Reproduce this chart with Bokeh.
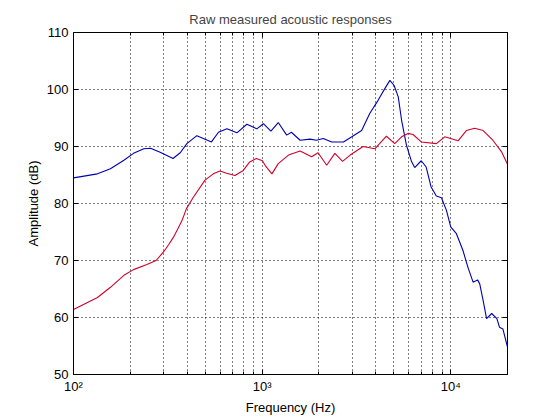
from bokeh.plotting import figure
from bokeh.models import FixedTicker, LogAxis, LinearAxis, Range1d
from bokeh.embed import file_html
from bokeh.resources import INLINE

# Data
freq_blue = [100, 134, 157, 185, 208, 236, 256, 288, 337, 368, 399, 451, 539, 587, 651,
             735, 830, 937, 1016, 1113, 1218, 1350, 1430, 1590, 1795, 1940, 2110, 2340,
             2700, 2990, 3370, 3720, 4120, 4480, 4760, 5010, 5270, 5490, 5820, 6190,
             6440, 6980, 7410, 7870, 8390, 8930, 9490, 10000, 10720, 11600, 12340,
             13140, 13880, 14250, 14850, 15490, 16490, 17570, 18130, 18900, 20000]
amp_blue = [84.5, 85.2, 86.1, 87.6, 88.8, 89.6, 89.7, 89.0, 87.9, 88.9, 90.5, 91.9, 90.8,
            92.5, 93.1, 92.4, 93.9, 93.1, 94.0, 92.7, 94.2, 92.0, 92.5, 91.1, 91.3, 91.1,
            91.4, 90.8, 90.8, 91.7, 92.8, 95.8, 98.1, 100.2, 101.6, 100.7, 98.7, 94.6,
            90.3, 87.4, 86.3, 87.5, 86.4, 82.9, 81.3, 81.0, 78.8, 75.9, 74.7, 71.8, 68.8,
            66.2, 66.6, 65.9, 63.0, 59.8, 60.7, 59.8, 58.3, 58.0, 54.8]

freq_red = [100, 134, 157, 185, 208, 245, 274, 300, 320, 339, 358, 376, 397, 432, 498, 551,
            598, 648, 718, 794, 860, 933, 1004, 1037, 1127, 1218, 1380, 1590, 1830, 1980,
            2200, 2430, 2670, 2930, 3430, 3960, 4560, 5050, 5490, 5940, 6310, 6980,
            8390, 9300, 10940, 12100, 13410, 14850, 16720, 18650, 20000]
amp_red = [61.4, 63.5, 65.3, 67.4, 68.4, 69.3, 70.0, 71.5, 72.8, 74.1, 75.6, 77.0, 79.1,
           81.1, 84.1, 85.2, 85.7, 85.3, 84.9, 85.8, 87.3, 87.9, 87.5, 86.7, 85.2, 87.0,
           88.5, 89.2, 88.2, 88.9, 86.7, 88.8, 87.4, 88.5, 90.0, 89.6, 91.8, 90.5, 91.7,
           92.3, 92.1, 90.8, 90.5, 91.7, 91.0, 92.8, 93.2, 92.8, 91.1, 89.0, 86.9]

x_major = [100, 1000, 10000]
x_minor = [200, 300, 400, 500, 600, 700, 800, 900,
           2000, 3000, 4000, 5000, 6000, 7000, 8000, 9000, 20000]
x_labels = {100: "10\u00b2", 1000: "10\u00b3", 10000: "10\u2074"}
y_major = [50, 60, 70, 80, 90, 100, 110]

FONT = "Liberation Sans"

p = figure(width=560, height=420, x_axis_type="log",
           x_range=Range1d(100, 20000), y_range=Range1d(50, 110),
           output_backend="svg", toolbar_location=None,
           min_border_left=73, min_border_right=53,
           min_border_top=32, min_border_bottom=46,
           title="Raw measured acoustic responses")

p.title.align = "center"
p.title.text_font = FONT
p.title.text_font_size = "13px"
p.title.text_font_style = "normal"
p.title.standoff = 11

p.background_fill_color = "white"
p.border_fill_color = "white"
p.outline_line_color = "black"
p.outline_line_width = 1

xt = FixedTicker(ticks=x_major, minor_ticks=x_minor)
yt = FixedTicker(ticks=y_major)

xa = p.xaxis[0]
xa.ticker = xt
xa.major_label_overrides = x_labels
ya = p.yaxis[0]
ya.ticker = yt

for ax in (xa, ya):
    ax.axis_line_color = "black"
    ax.major_tick_in = 5
    ax.major_tick_out = 0
    ax.minor_tick_in = 3
    ax.minor_tick_out = 0
    ax.major_tick_line_color = "black"
    ax.minor_tick_line_color = "black"
    ax.major_label_text_font = FONT
    ax.major_label_text_font_size = "13px"
    ax.major_label_text_color = "black"
    ax.axis_label_text_font = FONT
    ax.axis_label_text_font_size = "13px"
    ax.axis_label_text_font_style = "normal"
    ax.axis_label_text_color = "black"

ya.minor_tick_line_color = None
xa.major_label_standoff = 4
xa.axis_label_standoff = 3
ya.major_label_standoff = 5
ya.axis_label_standoff = 3
xa.axis_label = "Frequency (Hz)"
ya.axis_label = "Amplitude (dB)"

top = LogAxis(ticker=FixedTicker(ticks=x_major, minor_ticks=x_minor))
right = LinearAxis(ticker=FixedTicker(ticks=y_major))
for ax in (top, right):
    ax.major_tick_in = 5
    ax.major_tick_out = 0
    ax.minor_tick_in = 3
    ax.minor_tick_out = 0
    ax.major_label_text_font_size = "0px"
    ax.major_label_text_alpha = 0
    ax.major_label_standoff = 0
    ax.axis_line_color = "black"
right.minor_tick_line_color = None
p.add_layout(top, "above")
p.add_layout(right, "right")

p.xgrid.ticker = xt
p.ygrid.ticker = yt
for g in (p.xgrid, p.ygrid):
    g.grid_line_color = "black"
    g.grid_line_dash = "1 3"
    g.grid_line_width = 1
p.xgrid.minor_grid_line_color = "black"
p.xgrid.minor_grid_line_dash = "1 3"
p.xgrid.minor_grid_line_width = 1

p.line(freq_blue, amp_blue, line_color="#0000b0", line_width=1.1)
p.line(freq_red, amp_red, line_color="#d0002a", line_width=1.1)

open("out.html", "w").write(file_html(p, INLINE))
